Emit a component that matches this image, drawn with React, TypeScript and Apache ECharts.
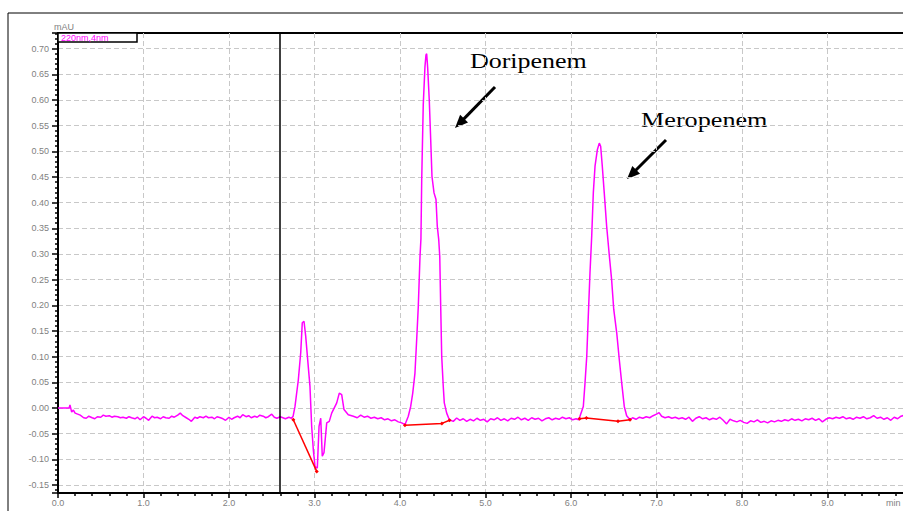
import React, { useEffect, useRef } from "react";
import * as echarts from "echarts";

// Chromatogram trace: [retention time (min), absorbance (mAU)]
const trace: [number, number][] = [
  [0.0, 0.0], [0.13, 0.0], [0.14, 0.006], [0.16, -0.008], [0.18, -0.004], [0.2, -0.01], [0.23, -0.012],
  [0.26, -0.014], [0.3, -0.019], [0.33, -0.02], [0.36, -0.016], [0.4, -0.019], [0.43, -0.021], [0.46, -0.017],
  [0.5, -0.018], [0.53, -0.014], [0.56, -0.016], [0.6, -0.015], [0.63, -0.018], [0.66, -0.016], [0.7, -0.017],
  [0.73, -0.019], [0.76, -0.018], [0.8, -0.02], [0.83, -0.017], [0.86, -0.019], [0.9, -0.021], [0.93, -0.018],
  [0.96, -0.023], [1.0, -0.017], [1.03, -0.02], [1.06, -0.024], [1.1, -0.016], [1.13, -0.019], [1.16, -0.018],
  [1.2, -0.021], [1.23, -0.017], [1.26, -0.019], [1.3, -0.02], [1.33, -0.016], [1.36, -0.018], [1.4, -0.014],
  [1.43, -0.01], [1.46, -0.015], [1.5, -0.019], [1.53, -0.022], [1.56, -0.026], [1.6, -0.018], [1.63, -0.02],
  [1.66, -0.017], [1.7, -0.019], [1.73, -0.016], [1.76, -0.019], [1.8, -0.018], [1.83, -0.021], [1.86, -0.017],
  [1.9, -0.019], [1.93, -0.021], [1.96, -0.024], [2.0, -0.018], [2.03, -0.022], [2.06, -0.019], [2.1, -0.016],
  [2.13, -0.019], [2.16, -0.013], [2.2, -0.017], [2.23, -0.015], [2.26, -0.019], [2.3, -0.016], [2.33, -0.018],
  [2.36, -0.014], [2.4, -0.016], [2.43, -0.019], [2.46, -0.017], [2.5, -0.012], [2.53, -0.018], [2.56, -0.02],
  [2.6, -0.017], [2.63, -0.019], [2.66, -0.021], [2.7, -0.018], [2.73, -0.02], [2.75, -0.016],
  [2.772, 0.003], [2.811, 0.055], [2.839, 0.108], [2.857, 0.166], [2.877, 0.169], [2.897, 0.14], [2.927, 0.081],
  [2.947, 0.042], [2.967, -0.036], [2.986, -0.081], [3.006, -0.114], [3.033, -0.117], [3.053, -0.036],
  [3.073, -0.02], [3.091, -0.094], [3.111, -0.087], [3.143, -0.029], [3.173, -0.026], [3.201, -0.01],
  [3.26, 0.01], [3.29, 0.029], [3.318, 0.026], [3.345, -0.003], [3.395, -0.013], [3.454, -0.016],
  [3.5, -0.019], [3.54, -0.014], [3.58, -0.018], [3.62, -0.016], [3.66, -0.02], [3.7, -0.018], [3.74, -0.021],
  [3.78, -0.019], [3.82, -0.023], [3.86, -0.021], [3.9, -0.025], [3.94, -0.023], [3.98, -0.027], [4.02, -0.029],
  [4.058, -0.0325],
  [4.097, -0.016], [4.125, 0.003], [4.149, 0.029], [4.175, 0.068], [4.195, 0.133], [4.214, 0.198], [4.234, 0.295],
  [4.245, 0.33], [4.254, 0.445], [4.272, 0.591], [4.292, 0.665], [4.304, 0.688], [4.312, 0.69], [4.324, 0.662],
  [4.343, 0.597], [4.359, 0.523], [4.374, 0.451], [4.398, 0.419], [4.421, 0.406], [4.436, 0.354], [4.453, 0.328],
  [4.465, 0.295], [4.476, 0.198], [4.488, 0.1], [4.506, 0.042], [4.518, 0.01], [4.546, -0.01], [4.577, -0.023],
  [4.623, -0.026], [4.663, -0.0195],
  [4.7, -0.024], [4.74, -0.021], [4.78, -0.026], [4.82, -0.022], [4.86, -0.025], [4.9, -0.02], [4.94, -0.024],
  [4.98, -0.022], [5.02, -0.027], [5.06, -0.021], [5.1, -0.023], [5.14, -0.019], [5.18, -0.024], [5.22, -0.021],
  [5.26, -0.025], [5.3, -0.02], [5.34, -0.022], [5.38, -0.018], [5.42, -0.023], [5.46, -0.02], [5.5, -0.024],
  [5.54, -0.019], [5.58, -0.022], [5.62, -0.02], [5.66, -0.025], [5.7, -0.021], [5.74, -0.019], [5.78, -0.023],
  [5.82, -0.02], [5.86, -0.022], [5.9, -0.018], [5.94, -0.021], [5.98, -0.019], [6.02, -0.023], [6.06, -0.021],
  [6.09, -0.023],
  [6.105, -0.016], [6.144, 0.003], [6.164, 0.049], [6.184, 0.1], [6.202, 0.178], [6.222, 0.263], [6.242, 0.334],
  [6.261, 0.419], [6.281, 0.471], [6.308, 0.503], [6.331, 0.516], [6.347, 0.51], [6.366, 0.471], [6.389, 0.419],
  [6.417, 0.354], [6.447, 0.299], [6.475, 0.25], [6.5, 0.192], [6.535, 0.146], [6.565, 0.094], [6.593, 0.049],
  [6.623, 0.003], [6.651, -0.015], [6.69, -0.023],
  [6.72, -0.019], [6.76, -0.022], [6.8, -0.018], [6.84, -0.02], [6.88, -0.017], [6.92, -0.019], [6.96, -0.015],
  [7.0, -0.012], [7.03, -0.009], [7.06, -0.016], [7.1, -0.019], [7.14, -0.017], [7.18, -0.02], [7.22, -0.018],
  [7.26, -0.021], [7.3, -0.019], [7.34, -0.022], [7.38, -0.018], [7.42, -0.026], [7.46, -0.02], [7.5, -0.017],
  [7.54, -0.021], [7.58, -0.019], [7.62, -0.023], [7.66, -0.02], [7.7, -0.022], [7.74, -0.018], [7.78, -0.024],
  [7.82, -0.031], [7.86, -0.022], [7.9, -0.025], [7.94, -0.027], [7.98, -0.024], [8.02, -0.028], [8.06, -0.03],
  [8.1, -0.025], [8.14, -0.027], [8.18, -0.023], [8.22, -0.028], [8.26, -0.026], [8.3, -0.029], [8.34, -0.025],
  [8.38, -0.027], [8.42, -0.024], [8.46, -0.026], [8.5, -0.023], [8.54, -0.025], [8.58, -0.021], [8.62, -0.024],
  [8.66, -0.022], [8.7, -0.025], [8.74, -0.021], [8.78, -0.023], [8.82, -0.02], [8.86, -0.024], [8.9, -0.021],
  [8.94, -0.027], [8.98, -0.022], [9.02, -0.019], [9.06, -0.021], [9.1, -0.018], [9.14, -0.02], [9.18, -0.017],
  [9.22, -0.021], [9.26, -0.019], [9.3, -0.022], [9.34, -0.018], [9.38, -0.02], [9.42, -0.017], [9.46, -0.021],
  [9.5, -0.019], [9.54, -0.015], [9.58, -0.02], [9.62, -0.018], [9.66, -0.022], [9.7, -0.019], [9.74, -0.024],
  [9.78, -0.018], [9.82, -0.021], [9.86, -0.016], [9.9, -0.014], [9.94, -0.018],
];

// Integration baselines (red)
const baselinePeak1: [number, number][] = [[2.752, -0.023], [3.026, -0.1235]];
const baselineDoripenem: [number, number][] = [[4.058, -0.0335], [4.49, -0.03], [4.58, -0.024]];
const baselineMeropenem: [number, number][] = [[6.1, -0.021], [6.18, -0.0195], [6.55, -0.026], [6.69, -0.023]];

const markerTime = 2.59;
const peakLabels = ["Doripenem", "Meropenem"];
const channelLabel = "220nm,4nm";
const yUnit = "mAU";
const xUnit = "min";

const Y_MIN = -0.1656;
const Y_MAX = 0.7305;

export default function App() {
  const ref = useRef<HTMLDivElement>(null);

  useEffect(() => {
    document.body.style.margin = "0";
    const chart = echarts.init(ref.current!, undefined, { renderer: "svg" });
    const gray = "#7f7f7f";
    const gridColor = "#c8c8c8";
    const labelFont = "Liberation Sans, Arial, sans-serif";
    const serifFont = `22px "Liberation Serif", "Times New Roman", serif`;

    const arrow = (x1: number, y1: number, x2: number, y2: number) => {
      const dx = x2 - x1;
      const dy = y2 - y1;
      const len = Math.sqrt(dx * dx + dy * dy);
      const ux = dx / len;
      const uy = dy / len;
      const hl = 13;
      const hw = 5.5;
      const bx = x2 - ux * hl;
      const by = y2 - uy * hl;
      return [
        {
          type: "line",
          shape: { x1, y1, x2: bx + ux * 2, y2: by + uy * 2 },
          style: { stroke: "#000", lineWidth: 3 },
        },
        {
          type: "polygon",
          shape: {
            points: [
              [x2, y2],
              [bx - uy * hw, by + ux * hw],
              [bx + uy * hw, by - ux * hw],
            ],
          },
          style: { fill: "#000" },
        },
      ];
    };

    chart.setOption({
      animation: false,
      backgroundColor: "#fff",
      grid: {
        left: 58,
        top: 33,
        width: 855,
        height: 460,
        show: true,
        borderColor: "#000",
        borderWidth: 2,
        backgroundColor: "transparent",
        outerBoundsMode: "none",
        containLabel: false,
      },
      xAxis: {
        type: "value",
        min: 0,
        max: 10,
        interval: 1,
        axisLine: { show: true, onZero: false, lineStyle: { color: "#000", width: 2 } },
        axisTick: { show: true, length: 5, lineStyle: { color: "#000", width: 1.5 } },
        minorTick: { show: true, splitNumber: 5, length: 3, lineStyle: { color: "#000", width: 1.5 } },
        axisLabel: {
          color: gray,
          fontSize: 9,
          fontFamily: labelFont,
          margin: 5,
          formatter: (v: number) => (v >= 10 ? "" : v.toFixed(1)),
        },
        splitLine: {
          show: true,
          showMinLine: false,
          showMaxLine: false,
          lineStyle: { color: gridColor, type: [5, 3], width: 1 },
        },
      },
      yAxis: {
        type: "value",
        min: Y_MIN,
        max: Y_MAX,
        minInterval: 0.05,
        maxInterval: 0.05,
        axisLine: { show: true, lineStyle: { color: "#000", width: 2 } },
        axisTick: { show: true, length: 6, lineStyle: { color: "#000", width: 1.5 } },
        minorTick: { show: true, splitNumber: 5, length: 3, lineStyle: { color: "#000", width: 1.5 } },
        axisLabel: {
          color: gray,
          fontSize: 9,
          fontFamily: labelFont,
          margin: 9,
          showMinLabel: false,
          showMaxLabel: false,
          formatter: (v: number) => {
            const r = Math.round(v / 0.05);
            if (Math.abs(v - r * 0.05) > 1e-6) return "";
            return (r * 0.05).toFixed(2);
          },
        },
        splitLine: {
          show: true,
          showMinLine: false,
          showMaxLine: false,
          lineStyle: { color: gridColor, type: [5, 3], width: 1 },
        },
      },
      series: [
        {
          type: "line",
          data: trace,
          showSymbol: false,
          lineStyle: { color: "#ff00ff", width: 1.5 },
          z: 3,
          markLine: {
            silent: true,
            symbol: ["none", "none"],
            label: { show: false },
            lineStyle: { color: "#000", type: "solid", width: 1.5 },
            data: [{ xAxis: markerTime }],
          },
        },
        ...[baselinePeak1, baselineDoripenem, baselineMeropenem].map((d) => ({
          type: "line",
          data: d,
          symbol: "diamond",
          symbolSize: 4,
          showSymbol: true,
          itemStyle: { color: "#ff0000" },
          lineStyle: { color: "#ff0000", width: 1.5 },
          z: 4,
        })),
      ],
      graphic: [
        {
          type: "rect",
          shape: { x: 8, y: 13, width: 1000, height: 600 },
          style: { fill: "none", stroke: "#000", lineWidth: 1 },
          silent: true,
        },
        {
          type: "text",
          x: 64,
          y: 27,
          style: { text: yUnit, fill: gray, font: `9px ${labelFont}`, align: "center", verticalAlign: "middle" },
        },
        {
          type: "rect",
          shape: { x: 58, y: 33, width: 79, height: 9 },
          style: { fill: "#fff", stroke: "#000", lineWidth: 1.5 },
          z: 10,
        },
        {
          type: "text",
          x: 61,
          y: 38,
          z: 11,
          style: { text: channelLabel, fill: "#ff00ff", font: `9px ${labelFont}`, verticalAlign: "middle" },
        },
        {
          type: "text",
          x: 886,
          y: 503,
          style: { text: xUnit, fill: gray, font: `9px ${labelFont}`, verticalAlign: "middle" },
        },
        {
          type: "text",
          x: 470,
          y: 50,
          scaleX: 1.18,
          style: { text: peakLabels[0], fill: "#000", font: serifFont, verticalAlign: "top" },
        },
        {
          type: "text",
          x: 641,
          y: 108,
          scaleX: 1.19,
          style: { text: peakLabels[1], fill: "#000", font: serifFont, verticalAlign: "top" },
        },
        ...arrow(495, 87, 455, 128),
        ...arrow(666, 140, 627, 179),
      ],
    });
    return () => chart.dispose();
  }, []);

  return <div ref={ref} style={{ width: 903, height: 511 }} />;
}
